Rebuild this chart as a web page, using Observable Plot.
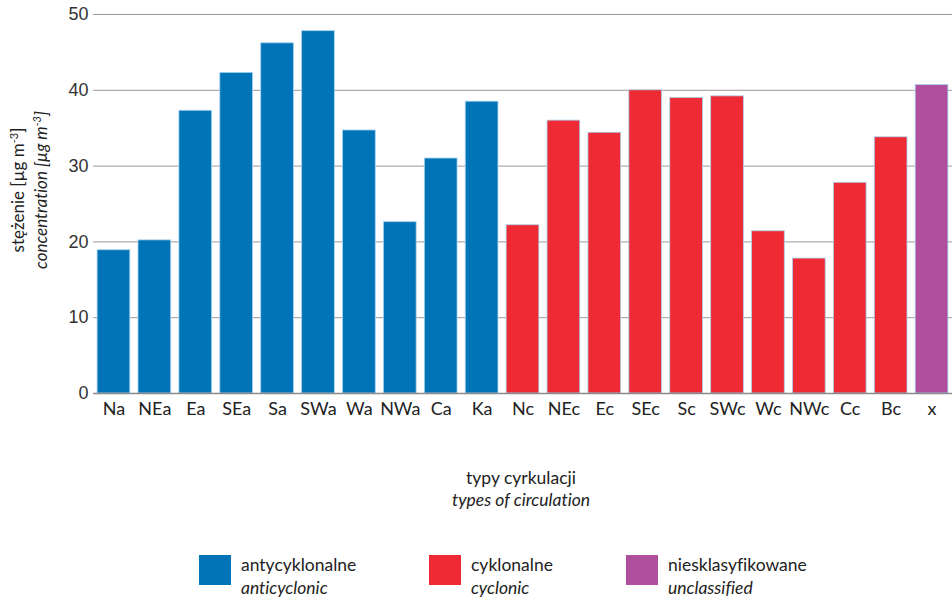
<!DOCTYPE html>
<html>
<head>
<meta charset="utf-8">
<script src="https://cdn.jsdelivr.net/npm/d3@7"></script>
<script src="https://cdn.jsdelivr.net/npm/@observablehq/plot@0.6"></script>
<style>
  html, body { margin: 0; padding: 0; background: #fff; }
  #wrap { position: relative; width: 952px; height: 599px; overflow: hidden; font-family: Lato, "Open Sans", sans-serif; color: #222; font-variant-ligatures: none; }
  .legend { position: absolute; top: 555px; left: 0; width: 952px; height: 44px; }
  .item { position: absolute; top: 0; }
  .sw { position: absolute; top: 0; width: 32px; height: 30px; }
  .lt { position: absolute; top: -2px; font-size: 17.5px; line-height: 23px; white-space: nowrap; color: #222; font-variant-ligatures: none; }
  .lt i { display: block; }
  svg text { font-variant-ligatures: none; }
</style>
</head>
<body>
<div id="wrap">
  <div id="chart"></div>
  <div class="legend" id="legend"></div>
</div>
<script>
const categories = ["Na","NEa","Ea","SEa","Sa","SWa","Wa","NWa","Ca","Ka","Nc","NEc","Ec","SEc","Sc","SWc","Wc","NWc","Cc","Bc","x"];
const values = [18.9,20.2,37.3,42.3,46.2,47.8,34.7,22.6,31.0,38.5,22.2,36.0,34.4,40.0,39.0,39.2,21.4,17.8,27.8,33.8,40.7];
const groups = ["a","a","a","a","a","a","a","a","a","a","c","c","c","c","c","c","c","c","c","c","u"];
const groupKeys = ["a","c","u"];
const groupLabelsPL = ["antycyklonalne","cyklonalne","niesklasyfikowane"];
const groupLabelsEN = ["anticyclonic","cyclonic","unclassified"];
const groupColors = ["#0074b7","#ee2a35","#b04f9e"];
const yTicks = [0,10,20,30,40,50];

const data = categories.map((c, i) => ({cat: c, value: values[i], group: groups[i]}));

const plot = Plot.plot({
  width: 952,
  height: 530,
  marginLeft: 93,
  marginRight: 0,
  marginTop: 14,
  marginBottom: 137,
  style: {fontFamily: "Lato, sans-serif", background: "#fff"},
  x: {domain: categories, paddingInner: 0.2, paddingOuter: 0.1, round: false, label: null},
  y: {domain: [0, 50], ticks: yTicks, label: null},
  color: {domain: groupKeys, range: groupColors},
  marks: [
    Plot.gridY(yTicks, {stroke: "#9a9a9a", strokeOpacity: 1, strokeWidth: 1}),
    Plot.barY(data, {x: "cat", y: "value", fill: "group", stroke: "#a8d3ef", strokeWidth: 0.8}),
    Plot.ruleY([0], {stroke: "#8a8a8a", strokeWidth: 1.5}),
    Plot.axisX({tickSize: 0, tickPadding: 9, fontSize: 18, fill: "#222", label: null}),
    Plot.axisY(yTicks, {tickSize: 0, tickPadding: 5, fontSize: 18, fill: "#333", label: null, fontFamily: "Liberation Sans, Arial, sans-serif"})
  ]
});
document.getElementById("chart").appendChild(plot);

const svg = d3.select(plot);
// y axis title (two lines, rotated)
const yt = svg.append("g").attr("transform", "translate(24,190) rotate(-90)")
  .attr("font-size", 17).attr("fill", "#222").attr("text-anchor", "middle").attr("font-family", "Lato, sans-serif");
const t1 = yt.append("text").attr("x", 0).attr("y", 0);
t1.append("tspan").text("stężenie [µg m");
t1.append("tspan").attr("dy", -6).attr("font-size", 11).text("-3");
t1.append("tspan").attr("dy", 6).text("]");
const t2 = yt.append("text").attr("x", 0).attr("y", 23).attr("font-style", "italic");
t2.append("tspan").text("concentration [µg m");
t2.append("tspan").attr("dy", -6).attr("font-size", 11).text("-3");
t2.append("tspan").attr("dy", 6).text("]");

// x axis title
const xt = svg.append("g").attr("font-size", 17.5).attr("fill", "#222").attr("text-anchor", "middle").attr("font-family", "Lato, sans-serif");
xt.append("text").attr("x", 521).attr("y", 484).text("typy cyrkulacji");
xt.append("text").attr("x", 521).attr("y", 506).attr("font-style", "italic").text("types of circulation");

// legend
const legendX = [199, 429, 626];
const leg = document.getElementById("legend");
groupKeys.forEach((g, i) => {
  const item = document.createElement("div");
  item.className = "item";
  item.style.left = legendX[i] + "px";
  item.innerHTML = `<div class="sw" style="background:${groupColors[i]}"></div><div class="lt" style="left:42px">${groupLabelsPL[i]}<i>${groupLabelsEN[i]}</i></div>`;
  leg.appendChild(item);
});
</script>
</body>
</html>
